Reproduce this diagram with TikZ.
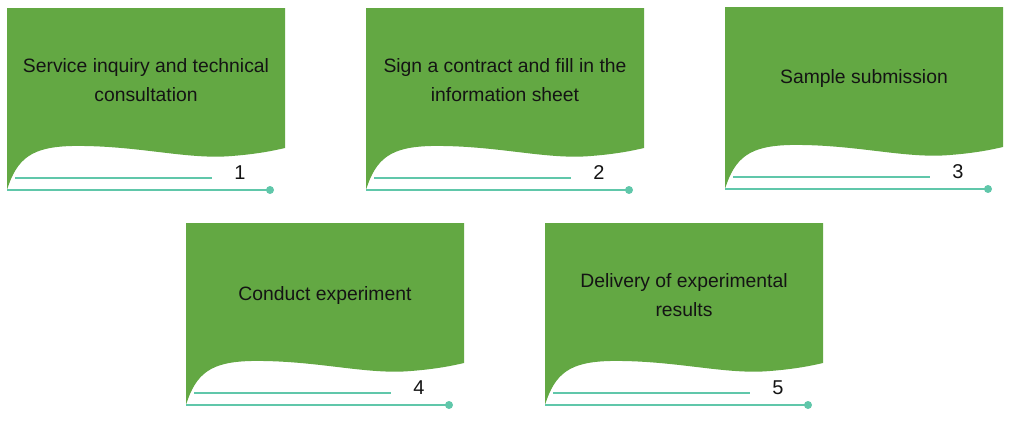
\documentclass[tikz,border=0pt]{standalone}
\usepackage{fontspec}
\setmainfont{Liberation Sans}
\usepackage{tikz}
\usetikzlibrary{positioning,calc}
\definecolor{verde}{RGB}{99,168,67}
\definecolor{turquesa}{RGB}{96,199,170}
\definecolor{textooscuro}{RGB}{20,20,20}

\begin{document}
\begin{tikzpicture}[x=0.75pt, y=-0.75pt,
    font=\fontsize{14.5}{21.75}\selectfont,
    hoja/.style={fill=verde, draw=none},
    linea/.style={draw=turquesa, line width=0.9pt},
    texto/.style={text=textooscuro, align=center},
    numero/.style={text=textooscuro, anchor=center, font=\fontsize{15}{18}\selectfont}]
  \useasboundingbox (0,0) rectangle (1011,421);
  \foreach \x/\y/\n/\txt in {7/8/1/{Service inquiry and technical\\consultation},
      366/8/2/{Sign a contract and fill in the\\information sheet},
      725/7/3/{Sample submission},
      186/223/4/{Conduct experiment},
      545/223/5/{Delivery of experimental\\results}} {
    \begin{scope}[shift={(\x,\y)}]
      % hoja con borde ondulado
      \path[hoja] (0,0) -- (278,0) -- (278,140)
        .. controls (265,143) and (250,146) .. (225,148)
        .. controls (180,152) and (130,137) .. (65,138)
        .. controls (25,139) and (10,150) .. (0,182) -- cycle;
      \node[texto] (texto\n) at (139,72) {\txt};
      \node[numero] (num\n) at (233,165) {\n};
      \coordinate (ini\n) at (8,170);
      \coordinate (corte\n) at (205,170);
      \coordinate (base\n) at (0,182);
      \coordinate (fin\n) at (263,182);
      \draw[linea] (ini\n) -- (corte\n);
      \draw[linea] (base\n) -- (fin\n);
      \fill[turquesa] (fin\n) circle[radius=4];
    \end{scope}
  }
\end{tikzpicture}
\end{document}
